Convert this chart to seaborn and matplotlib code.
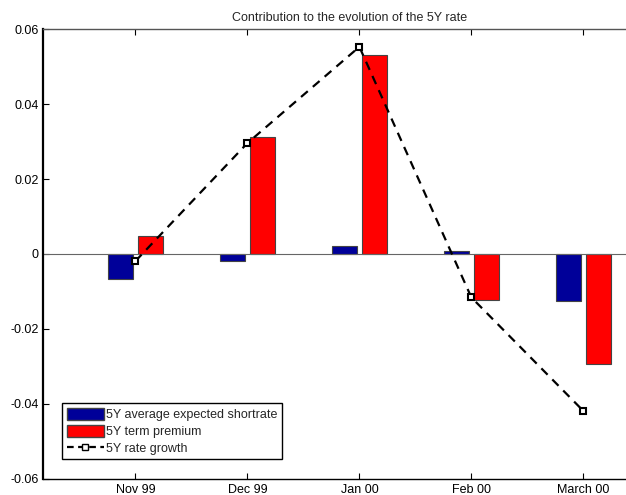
import matplotlib
matplotlib.use("Agg")
import matplotlib.pyplot as plt
import seaborn as sns
import pandas as pd
import numpy as np
from matplotlib.patches import Patch
from matplotlib.lines import Line2D

months = ["Nov 99", "Dec 99", "Jan 00", "Feb 00", "March 00"]
expected_short_rate = [-0.0067, -0.0018, 0.0021, 0.0007, -0.0125]
term_premium = [0.0048, 0.0312, 0.0531, -0.0124, -0.0295]
rate_growth = [-0.0019, 0.0296, 0.0553, -0.0116, -0.0419]

series_names = ["5Y average expected short rate", "5Y term premium"]
legend_labels = ["5Y average expected shortrate", "5Y term premium", "5Y rate growth"]

sns.set_theme(style="white")
plt.rcParams["font.family"] = ["Liberation Sans", "DejaVu Sans"]

bars = pd.DataFrame({
    "month": months * 2,
    "value": expected_short_rate + term_premium,
    "series": [series_names[0]] * len(months) + [series_names[1]] * len(months),
})

fig = plt.figure(figsize=(6.26, 4.95), dpi=100)
ax = fig.add_axes([0.068, 0.033, 0.98, 0.908])

sns.barplot(data=bars, x="month", y="value", hue="series", order=months,
            hue_order=series_names, palette=["#000099", "#ff0000"],
            width=0.54, gap=0.17, saturation=1, edgecolor="#444444",
            linewidth=0.8, ax=ax, legend=False)

ax.axhline(0, color="#666666", lw=0.8, zorder=1)

line = pd.DataFrame({"pos": np.arange(len(months)), "value": rate_growth})
sns.lineplot(data=line, x="pos", y="value", ax=ax, color="black",
             linestyle=(0, (4, 3)), lw=1.6, marker="s", markersize=5,
             markerfacecolor="white", markeredgecolor="black",
             markeredgewidth=1.5, zorder=5)

ax.set_xlim(-0.83, 4.65)
ax.set_ylim(-0.06, 0.06)
ax.set_yticks([-0.06, -0.04, -0.02, 0, 0.02, 0.04, 0.06])
ax.set_yticklabels(["-0.06", "-0.04", "-0.02", "0", "0.02", "0.04", "0.06"])
ax.set_xticks(range(len(months)))
ax.set_xticklabels(months)
ax.set_xlabel("")
ax.set_ylabel("")
ax.tick_params(axis="both", direction="in", length=4, width=0.8,
               labelsize=9, colors="black", top=True, bottom=True, left=True)
ax.tick_params(axis="x", pad=4)
ax.tick_params(axis="y", pad=3)
for side in ["top", "bottom", "left", "right"]:
    ax.spines[side].set_color("black")
    ax.spines[side].set_linewidth(1.0)
ax.spines["left"].set_linewidth(1.6)
ax.spines["top"].set_color("#555555")

ax.set_title("Contribution to the evolution of the 5Y rate", fontsize=9, pad=6)

handles = [
    Patch(facecolor="#000099", edgecolor="#444444", label=legend_labels[0]),
    Patch(facecolor="#ff0000", edgecolor="#444444", label=legend_labels[1]),
    Line2D([0], [0], color="black", linestyle=(0, (3, 2)), lw=1.6, marker="s",
           markersize=4, markerfacecolor="white", markeredgecolor="black",
           label=legend_labels[2]),
]
leg = ax.legend(handles=handles, loc="lower left", bbox_to_anchor=(0.032, 0.043),
                fontsize=9, frameon=True, fancybox=False, framealpha=1,
                edgecolor="black", borderpad=0.35, labelspacing=0.3,
                handlelength=3.0, handleheight=1.1, handletextpad=0.15,
                borderaxespad=0)
leg.get_frame().set_linewidth(1.0)

fig.savefig("out.png", dpi=100)
